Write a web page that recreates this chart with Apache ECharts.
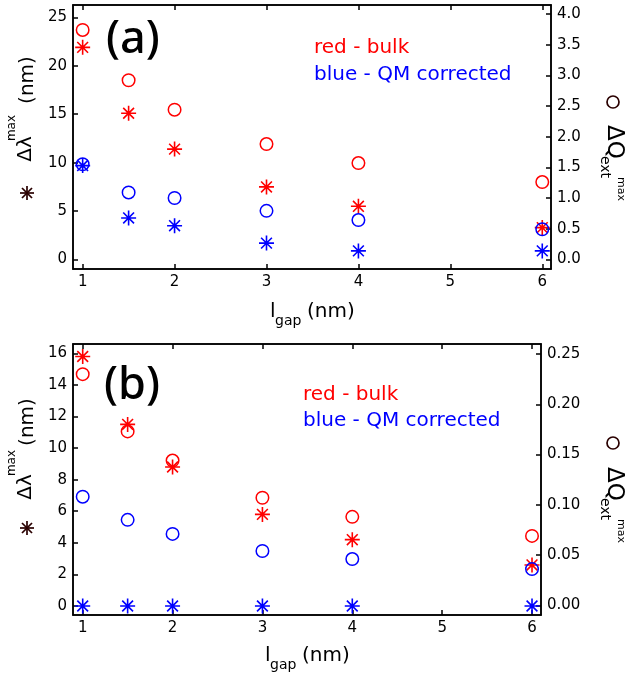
<!DOCTYPE html>
<html>
<head>
<meta charset="utf-8">
<script src="https://cdn.jsdelivr.net/npm/echarts@6/dist/echarts.min.js"></script>
<style>
  html, body { margin: 0; padding: 0; background: #fff; }
  #chart { width: 628px; height: 677px; }
</style>
</head>
<body>
<div id="chart"></div>
<script>
// Gap sizes (nm)
const gapNm = [1, 1.5, 2, 3, 4, 6];

// Panel (a): peak shift Δλmax (nm, stars) and extinction change ΔQext max (circles)
const shiftBulkA = [21.9, 15.1, 11.4, 7.5, 5.5, 3.3];
const shiftQmA   = [9.7, 4.3, 3.5, 1.7, 0.9, 0.9];
const extBulkA   = [3.74, 2.92, 2.44, 1.88, 1.57, 1.26];
const extQmA     = [1.55, 1.09, 1.00, 0.79, 0.64, 0.49];

// Panel (b)
const shiftBulkB = [15.8, 11.5, 8.8, 5.8, 4.2, 2.6];
const shiftQmB   = [0, 0, 0, 0, 0, 0];
const extBulkB   = [0.230, 0.173, 0.144, 0.107, 0.088, 0.069];
const extQmB     = [0.108, 0.085, 0.071, 0.054, 0.046, 0.036];

// Tick values
const xTicks      = [1, 2, 3, 4, 5, 6];
const leftTicksA  = [0, 5, 10, 15, 20, 25];
const rightTicksA = [0, 0.5, 1.0, 1.5, 2.0, 2.5, 3.0, 3.5, 4.0];
const leftTicksB  = [0, 2, 4, 6, 8, 10, 12, 14, 16];
const rightTicksB = [0, 0.05, 0.10, 0.15, 0.20, 0.25];

const RED = '#ff0000';
const BLUE = '#0000ff';
const INK = '#000';
const TICK_FONT = 'DejaVu Sans';

const pairs = vals => gapNm.map((g, i) => [g, vals[i]]);

const STAR = 'path://M0,-1L0,1M-1,0L1,0M-0.72,-0.72L0.72,0.72M-0.72,0.72L0.72,-0.72';

function starSeries(data, color, xi, yi) {
  return {
    type: 'scatter', xAxisIndex: xi, yAxisIndex: yi,
    data: pairs(data), symbol: STAR, symbolSize: 15,
    itemStyle: { color: 'none', borderColor: color, borderWidth: 1.6, opacity: 1 },
    emphasis: { disabled: true }
  };
}
function circleSeries(data, color, xi, yi) {
  return {
    type: 'scatter', xAxisIndex: xi, yAxisIndex: yi,
    data: pairs(data), symbol: 'circle', symbolSize: 12.5,
    itemStyle: { color: 'rgba(0,0,0,0)', borderColor: color, borderWidth: 1.5, opacity: 1 },
    emphasis: { disabled: true }
  };
}

const axisLine = { show: true, onZero: false, lineStyle: { color: INK, width: 1.5 } };

function xAxisPair(gridIndex, min, max) {
  return [
    {
      gridIndex, type: 'value', position: 'bottom', min, max,
      axisLine,
      axisTick: { show: true, inside: true, length: 5, customValues: xTicks, lineStyle: { color: INK, width: 1.5 } },
      axisLabel: { customValues: xTicks, color: INK, fontFamily: TICK_FONT, fontSize: 15, margin: 6 },
      splitLine: { show: false }
    },
    {
      gridIndex, type: 'value', position: 'top', min, max,
      axisLine,
      axisTick: { show: true, inside: true, length: 5, customValues: xTicks, lineStyle: { color: INK, width: 1.5 } },
      axisLabel: { show: false },
      splitLine: { show: false }
    }
  ];
}

function yAxis(gridIndex, position, min, max, ticks, digits) {
  return {
    gridIndex, type: 'value', position, min, max,
    axisLine,
    axisTick: { show: true, inside: true, length: 5, customValues: ticks, lineStyle: { color: INK, width: 1.5 } },
    axisLabel: {
      customValues: ticks, color: INK, fontFamily: TICK_FONT, fontSize: 15, margin: 6,
      formatter: v => v.toFixed(digits)
    },
    splitLine: { show: false }
  };
}

// Rotated axis-title pieces
function txt(x, y, text, size, rotation) {
  return {
    type: 'text', x, y, rotation,
    style: {
      text, fill: INK, font: size + 'px "DejaVu Sans"',
      textAlign: 'center', textVerticalAlign: 'middle'
    }
  };
}
function starMark(cx, cy) {
  const r = 7, d = 5;
  const stroke = { stroke: '#2a0000', lineWidth: 1.7 };
  return {
    type: 'group', x: cx, y: cy,
    children: [
      { type: 'line', shape: { x1: 0, y1: -r, x2: 0, y2: r }, style: stroke },
      { type: 'line', shape: { x1: -r, y1: 0, x2: r, y2: 0 }, style: stroke },
      { type: 'line', shape: { x1: -d, y1: -d, x2: d, y2: d }, style: stroke },
      { type: 'line', shape: { x1: -d, y1: d, x2: d, y2: -d }, style: stroke }
    ]
  };
}
function circleMark(cx, cy) {
  return { type: 'circle', shape: { cx, cy, r: 6 }, style: { fill: 'none', stroke: '#2a0000', lineWidth: 1.7 } };
}
function leftTitle(starY, dlY, maxY, nmY) {
  const up = Math.PI / 2;
  return [
    starMark(27, starY),
    txt(26, dlY, 'Δλ', 20, up),
    txt(12, maxY, 'max', 12, up),
    txt(28, nmY, '(nm)', 20, up)
  ];
}
function rightTitle(circY, dqY, extY, maxY) {
  const down = -Math.PI / 2;
  return [
    circleMark(613, circY),
    txt(614, dqY, 'ΔQ', 23, down),
    txt(605, extY, 'ext', 14, down),
    txt(621, maxY, 'max', 11, down)
  ];
}
function bottomTitle(x, y) {
  return [
    { type: 'text', x, y, style: { text: 'l', fill: INK, font: '20px "DejaVu Sans"', textAlign: 'left', textVerticalAlign: 'middle' } },
    { type: 'text', x: x + 5, y: y + 9, style: { text: 'gap', fill: INK, font: '14px "DejaVu Sans"', textAlign: 'left', textVerticalAlign: 'middle' } },
    { type: 'text', x: x + 37, y, style: { text: '(nm)', fill: INK, font: '20px "DejaVu Sans"', textAlign: 'left', textVerticalAlign: 'middle' } }
  ];
}
function note(x, y, text, color) {
  return { type: 'text', x, y, style: { text, fill: color, font: '20px "DejaVu Sans"', textAlign: 'left', textVerticalAlign: 'middle' } };
}
function panelTag(x, y, text) {
  return { type: 'text', x, y, style: { text, fill: INK, font: '500 45px "Noto Sans"', textAlign: 'left', textVerticalAlign: 'middle' } };
}

const chart = echarts.init(document.getElementById('chart'), null, { renderer: 'canvas' });

chart.setOption({
  animation: false,
  backgroundColor: '#fff',
  grid: [
    { left: 73, top: 5, width: 478, height: 264, show: true, borderColor: INK, borderWidth: 1.5 },
    { left: 73, top: 344, width: 468, height: 271, show: true, borderColor: INK, borderWidth: 1.5 }
  ],
  xAxis: [
    ...xAxisPair(0, 0.895, 6.095),
    ...xAxisPair(1, 0.892, 6.1)
  ],
  yAxis: [
    yAxis(0, 'left', -0.97, 26.27, leftTicksA, 0),
    yAxis(0, 'right', -0.158, 4.147, rightTicksA, 1),
    yAxis(1, 'left', -0.57, 16.59, leftTicksB, 0),
    yAxis(1, 'right', -0.0097, 0.26, rightTicksB, 2)
  ],
  series: [
    starSeries(shiftBulkA, RED, 0, 0),
    circleSeries(extBulkA, RED, 0, 1),
    starSeries(shiftQmA, BLUE, 0, 0),
    circleSeries(extQmA, BLUE, 0, 1),
    starSeries(shiftBulkB, RED, 2, 2),
    circleSeries(extBulkB, RED, 2, 3),
    starSeries(shiftQmB, BLUE, 2, 2),
    circleSeries(extQmB, BLUE, 2, 3)
  ],
  graphic: [
    panelTag(106, 40, '(a)'),
    panelTag(104, 386, '(b)'),
    note(314, 48, 'red - bulk', RED),
    note(314, 75, 'blue - QM corrected', BLUE),
    note(303, 395, 'red - bulk', RED),
    note(303, 421, 'blue - QM corrected', BLUE),
    ...leftTitle(193, 149, 128, 80),
    ...leftTitle(528, 487, 463, 422),
    ...rightTitle(102, 142, 167, 189),
    ...rightTitle(443, 484, 509, 531),
    ...bottomTitle(270, 312),
    ...bottomTitle(265, 656)
  ]
});
</script>
</body>
</html>
